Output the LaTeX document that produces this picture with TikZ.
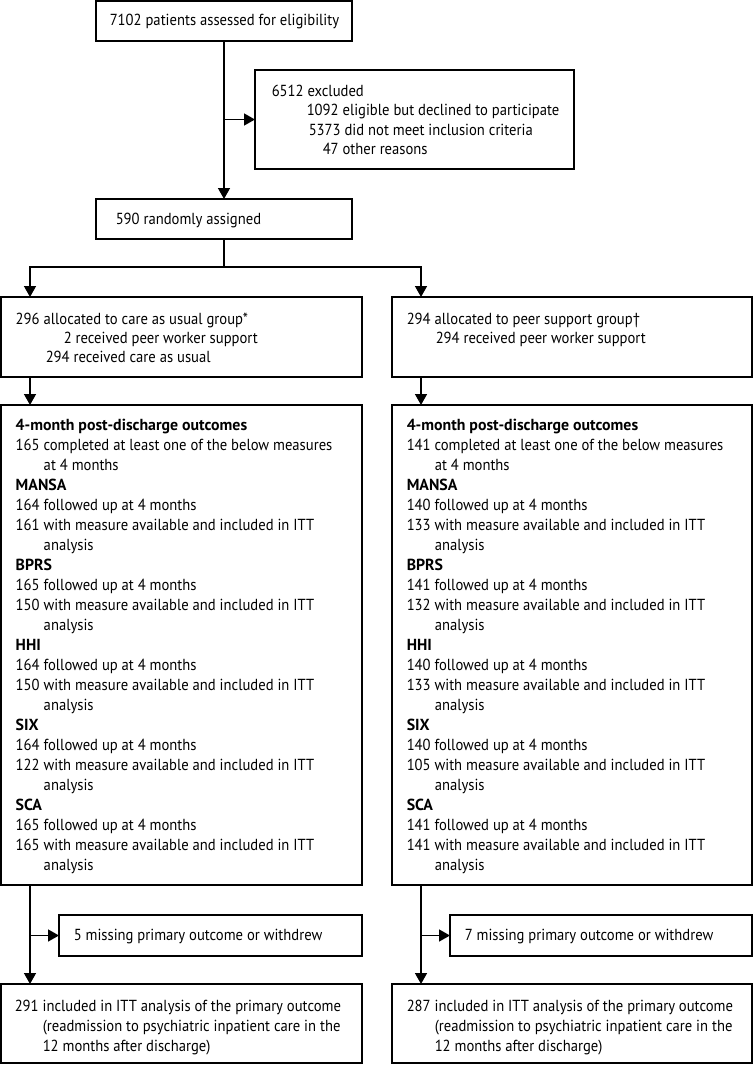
\documentclass[tikz,border=0pt]{standalone}
\usepackage{fontspec}
\setmainfont{PT Sans}[FakeStretch=0.915,BoldFeatures={FakeStretch=0.99}]
\usetikzlibrary{arrows.meta}
\newcommand{\ind}{\hspace*{28pt}}
\begin{document}
\begin{tikzpicture}[x=1pt,y=-1pt,
  line width=1.5pt,
  >={Triangle[length=11pt,width=12pt]},
  box/.style={draw,line width=1.5pt,anchor=north west,inner sep=0pt,outer sep=0pt},
  txt/.style={anchor=base west,inner sep=0pt,font=\fontsize{16}{20}\selectfont},
  lines/.style={anchor=base west,inner sep=0pt,font=\fontsize{16}{20}\selectfont}
]
\useasboundingbox (0,0) rectangle (754,1065);
\coordinate (colL) at (30,0);
\coordinate (colR) at (421,0);
\coordinate (sp) at (224,267);

% boxes
\node[box,minimum width=256pt,minimum height=40pt] (top) at (96,1) {};
\node[box,minimum width=319pt,minimum height=99pt] (excl) at (255,70) {};
\node[box,minimum width=256pt,minimum height=40pt] (rand) at (96,199) {};
\node[box,minimum width=361pt,minimum height=80pt] (cau) at (1,297) {};
\node[box,minimum width=360pt,minimum height=80pt] (pst) at (392,297) {};
\node[box,minimum width=361pt,minimum height=480pt] (oL) at (1,405) {};
\node[box,minimum width=360pt,minimum height=480pt] (oR) at (392,405) {};
\node[box,minimum width=303pt,minimum height=41pt] (mL) at (59,915) {};
\node[box,minimum width=302pt,minimum height=41pt] (mR) at (450,915) {};
\node[box,minimum width=361pt,minimum height=79pt] (fL) at (1,984) {};
\node[box,minimum width=360pt,minimum height=79pt] (fR) at (392,984) {};

% texts
\node[txt] (topt) at (109,26) {7102 patients assessed for eligibility};
\node[txt] (exclt1) at (271,96) {6512 excluded};
\node[txt] (exclt2) at (306,115) {1092 eligible but declined to participate};
\node[txt] (exclt3) at (308,135) {5373 did not meet inclusion criteria};
\node[txt] (exclt4) at (322,154) {47 other reasons};
\node[txt] (randt) at (115,224) {590 randomly assigned};

\node[txt] (caut1) at (15,324) {296 allocated to care as usual group*};
\node[txt] (caut2) at (63,343) {2 received peer worker support};
\node[txt] (caut3) at (45,362) {294 received care as usual};
\node[txt] (pstt1) at (406,324) {294 allocated to peer support group\textdagger};
\node[txt] (pstt2) at (435,343) {294 received peer worker support};

\node[lines] (oLt) at (15,430) {\parbox[t]{345pt}{\raggedright
\textbf{4-month post-discharge outcomes}\\
165 completed at least one of the below measures\\
\ind at 4 months\\
\textbf{MANSA}\\
164 followed up at 4 months\\
161 with measure available and included in ITT\\
\ind analysis\\
\textbf{BPRS}\\
165 followed up at 4 months\\
150 with measure available and included in ITT\\
\ind analysis\\
\textbf{HHI}\\
164 followed up at 4 months\\
150 with measure available and included in ITT\\
\ind analysis\\
\textbf{SIX}\\
164 followed up at 4 months\\
122 with measure available and included in ITT\\
\ind analysis\\
\textbf{SCA}\\
165 followed up at 4 months\\
165 with measure available and included in ITT\\
\ind analysis}};

\node[lines] (oRt) at (406,430) {\parbox[t]{345pt}{\raggedright
\textbf{4-month post-discharge outcomes}\\
141 completed at least one of the below measures\\
\ind at 4 months\\
\textbf{MANSA}\\
140 followed up at 4 months\\
133 with measure available and included in ITT\\
\ind analysis\\
\textbf{BPRS}\\
141 followed up at 4 months\\
132 with measure available and included in ITT\\
\ind analysis\\
\textbf{HHI}\\
140 followed up at 4 months\\
133 with measure available and included in ITT\\
\ind analysis\\
\textbf{SIX}\\
140 followed up at 4 months\\
105 with measure available and included in ITT\\
\ind analysis\\
\textbf{SCA}\\
141 followed up at 4 months\\
141 with measure available and included in ITT\\
\ind analysis}};

\node[txt] (mLt) at (73,940) {5 missing primary outcome or withdrew};
\node[txt] (mRt) at (464,940) {7 missing primary outcome or withdrew};

\node[lines] (fLt) at (14,1011) {\parbox[t]{345pt}{\raggedright
291 included in ITT analysis of the primary outcome\\
\ind(readmission to psychiatric inpatient care in the\\
\ind 12 months after discharge)}};
\node[lines] (fRt) at (406,1011) {\parbox[t]{345pt}{\raggedright
287 included in ITT analysis of the primary outcome\\
\ind(readmission to psychiatric inpatient care in the\\
\ind 12 months after discharge)}};

% connectors
\draw[->] (top.south) -- (rand.north);
\draw[->] (top.south |- excl.west) -- (excl.west);
\draw (rand.south) -- (sp);
\draw[->] (sp) -| (cau.north -| colL);
\draw[->] (sp) -| (pst.north -| colR);
\draw[->] (cau.south -| colL) -- (oL.north -| colL);
\draw[->] (pst.south -| colR) -- (oR.north -| colR);
\draw[->] (oL.south -| colL) -- (fL.north -| colL);
\draw[->] (oR.south -| colR) -- (fR.north -| colR);
\draw[->] (mL.west -| colL) -- (mL.west);
\draw[->] (mR.west -| colR) -- (mR.west);
\end{tikzpicture}
\end{document}
